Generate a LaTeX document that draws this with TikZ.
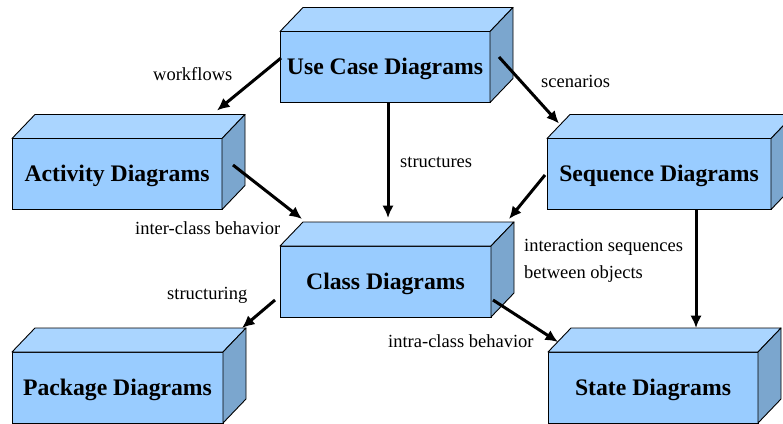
\documentclass[tikz,border=0pt]{standalone}
\usepackage{fontspec}
\setmainfont{Liberation Serif}
\usetikzlibrary{arrows.meta}
\definecolor{frontc}{HTML}{99CCFF}
\definecolor{topc}{HTML}{AAD5FF}
\definecolor{sidec}{HTML}{7BA6CE}
\tikzset{
 boxfront/.style={draw=black, fill=frontc, line width=0.9pt, minimum height=71pt, inner sep=0pt, outer sep=0pt, text height=15.8pt, text depth=0pt, font=\fontsize{23.7}{28}\selectfont\bfseries},
 topface/.style={draw=black, fill=topc, line width=0.9pt, line join=round},
 sideface/.style={draw=black, fill=sidec, line width=0.9pt, line join=round},
 arr/.style={line width=3pt, -{Latex[length=12.5pt,width=11.5pt]}},
 lbl/.style={font=\fontsize{18.5}{27}\selectfont, inner sep=0pt, anchor=base west, align=left},
}
\newcommand\cubebox[4]{%
 \node[boxfront, minimum width=#3] (#1) at (#2) {#4};
 \filldraw[topface] (#1.north west) -- ([shift={(23pt,24pt)}]#1.north west) -- ([shift={(23pt,24pt)}]#1.north east) -- (#1.north east) -- cycle;
 \filldraw[sideface] (#1.north east) -- ([shift={(23pt,24pt)}]#1.north east) -- ([shift={(23pt,24pt)}]#1.south east) -- (#1.south east) -- cycle;
}
\begin{document}
\begin{tikzpicture}[x=1pt, y=-1pt]
\clip (0,0) rectangle (783,423);
\fill[white] (0,0) rectangle (783,423);
\cubebox{uc}{385,67}{210pt}{Use Case Diagrams}
\cubebox{act}{117,174}{210pt}{Activity Diagrams}
\cubebox{seq}{659,174}{224pt}{Sequence Diagrams}
\cubebox{cls}{385.5,281.5}{211pt}{Class Diagrams}
\cubebox{pkg}{117.5,387.5}{211pt}{Package Diagrams}
\cubebox{st}{653,387.5}{210pt}{State Diagrams}

\draw[arr] ([xshift=1pt,yshift=9pt]uc.west) -- ([xshift=-5pt,yshift=28pt]act.north east);
\draw[arr] ([xshift=9pt,yshift=10pt]uc.east) -- ([xshift=12pt,yshift=15pt]seq.north west);
\draw[arr] ([xshift=3pt]uc.south) -- ([xshift=2.5pt,yshift=28pt]cls.north);
\draw[arr] ([xshift=11pt,yshift=9pt]act.east) -- ([xshift=22pt,yshift=27pt]cls.north west);
\draw[arr] ([xshift=-2pt,yshift=-1pt]seq.west) -- ([xshift=18pt,yshift=27pt]cls.north east);
\draw[arr] ([xshift=37pt]seq.south) -- ([xshift=43pt,yshift=24pt]st.north);
\draw[arr] ([xshift=-5pt,yshift=-18.5pt]cls.west) -- ([xshift=19pt,yshift=24pt]pkg.north east);
\draw[arr] ([xshift=2pt,yshift=-18.5pt]cls.east) -- ([xshift=10pt,yshift=10pt]st.north west);

\node[lbl] (lwork) at (153,80) {workflows};
\node[lbl] (lscen) at (541,87) {scenarios};
\node[lbl] (lstru) at (400,167) {structures};
\node[lbl] (linter) at (135,234) {inter-class behavior};
\node[lbl] (lseqs) at (524,278) {interaction sequences\\between objects};
\node[lbl] (lstruc) at (167,299) {structuring};
\node[lbl] (lintra) at (388,347) {intra-class behavior};
\end{tikzpicture}
\end{document}
